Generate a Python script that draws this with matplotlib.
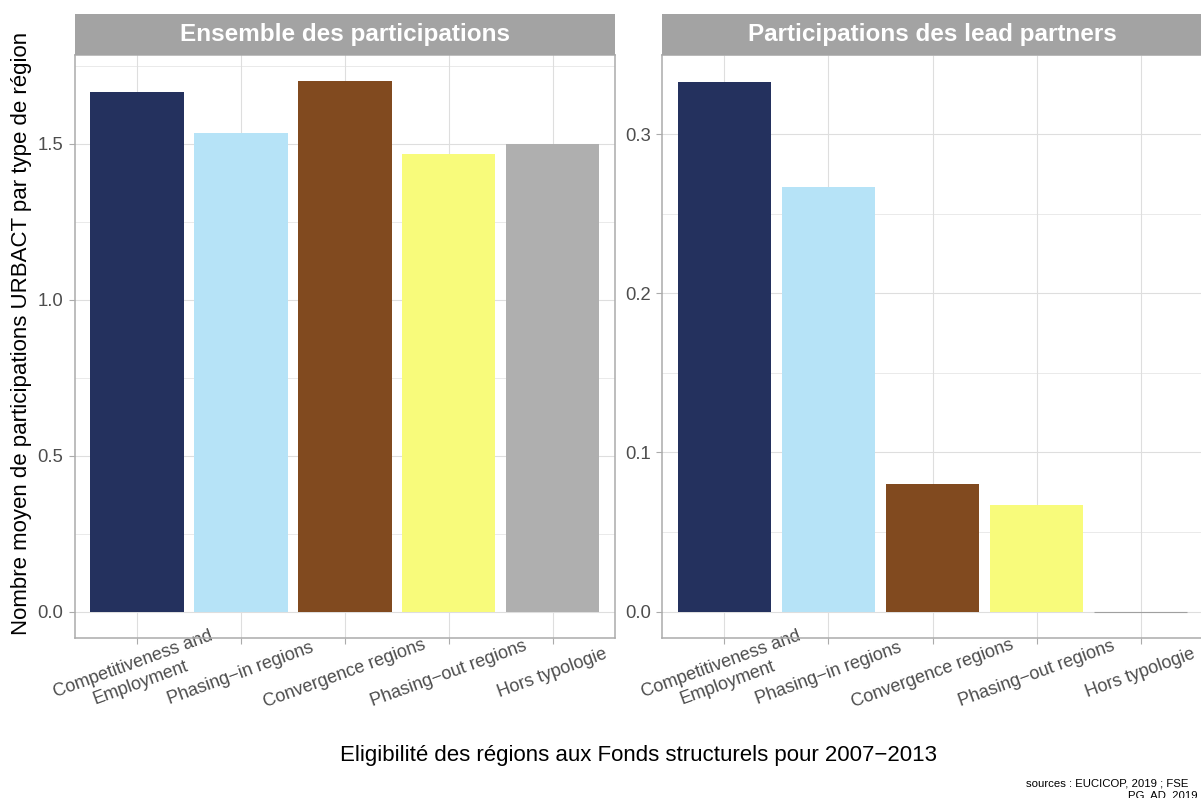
import matplotlib
matplotlib.use("Agg")
import matplotlib.pyplot as plt

plt.rcParams['font.family'] = ['Liberation Sans', 'DejaVu Sans']

# ---- data ----
categories = ["Competitiveness and\nEmployment", "Phasing\u2212in regions",
              "Convergence regions", "Phasing\u2212out regions", "Hors typologie"]
colors = ["#24315E", "#B6E3F7", "#814A1F", "#F8FB7B", "#AFAFAF"]
all_participations = [1.6667, 1.5333, 1.70, 1.4667, 1.50]
lead_partners = [0.3333, 0.2667, 0.080, 0.0667, 0.0]
panel_titles = ["Ensemble des participations", "Participations des lead partners"]
left_yticks = [0.0, 0.5, 1.0, 1.5]
left_yminor = [0.25, 0.75, 1.25, 1.75]
right_yticks = [0.0, 0.1, 0.2, 0.3]
right_yminor = [0.05, 0.15, 0.25, 0.35]
xlabel = "Eligibilit\u00e9 des r\u00e9gions aux Fonds structurels pour 2007\u22122013"
ylabel = "Nombre moyen de participations URBACT par type de r\u00e9gion"
caption1 = "sources : EUCICOP, 2019 ; FSE"
caption2 = "PG, AD, 2019"

W, H = 1201, 798
fig = plt.figure(figsize=(W / 100, H / 100), dpi=100)


def rect(x0, y0, x1, y1):
    return [x0 / W, 1 - y1 / H, (x1 - x0) / W, (y1 - y0) / H]


GRID = "#DEDEDE"
BORDER = "#ABABAB"
STRIP = "#A3A3A3"
TXT = "#4D4D4D"

panels = [
    (rect(74.5, 55, 615, 638), rect(74.5, 14, 615, 55), all_participations, left_yticks, left_yminor),
    (rect(662, 55, 1203, 638), rect(662, 14, 1203, 55), lead_partners, right_yticks, right_yminor),
]

x = list(range(1, len(categories) + 1))
for i, (prect, srect, vals, yt, ym) in enumerate(panels):
    ax = fig.add_axes(prect)
    vmax = max(vals)
    ax.set_ylim(-0.05 * vmax, 1.05 * vmax)
    ax.set_xlim(0.4, 5.6)
    for m in ym:
        ax.axhline(m, color=GRID, lw=0.45, zorder=0)
    for t in yt:
        ax.axhline(t, color=GRID, lw=0.8, zorder=0)
    for xx in x:
        ax.axvline(xx, color=GRID, lw=0.8, zorder=0)
    for xx, v, c in zip(x, vals, colors):
        if v == 0:
            ax.bar(xx, v, width=0.9, color=c, edgecolor="#A0A0A0", linewidth=0.8, zorder=2)
        else:
            ax.bar(xx, v, width=0.9, color=c, linewidth=0, zorder=2)
    ax.set_yticks(yt)
    ax.set_yticklabels([f"{t:.1f}" for t in yt])
    ax.set_xticks(x)
    ax.set_xticklabels(categories, rotation=20, ha="center", va="center",
                       rotation_mode="anchor", multialignment="center")
    ax.tick_params(axis="y", length=4.5, width=0.8, color=BORDER, labelsize=13.3,
                   labelcolor=TXT, pad=3.5)
    ax.tick_params(axis="x", length=4.5, width=0.8, color=BORDER, labelsize=13,
                   labelcolor=TXT, pad=21)
    for sp in ax.spines.values():
        sp.set_color(BORDER)
        sp.set_linewidth(1.1)
    ax.set_axisbelow(True)

    sax = fig.add_axes(srect)
    sax.set_facecolor(STRIP)
    sax.set_xticks([])
    sax.set_yticks([])
    for sp in sax.spines.values():
        sp.set_visible(False)
    sax.text(0.5, 0.5, panel_titles[i], transform=sax.transAxes, ha="center", va="center",
             color="white", fontsize=17.5, fontweight="bold")

fig.text(638.75 / W, 1 - 755 / H, xlabel, ha="center", va="center", fontsize=16, color="black")
fig.text(22 / W, 1 - 333 / H, ylabel, ha="center", va="center", rotation=90, fontsize=16,
         color="black")
fig.text(1188 / W, 1 - 787 / H, caption1, ha="right", va="baseline", fontsize=8.2, color="black")
fig.text(1128 / W, 1 - 799 / H, caption2, ha="left", va="baseline", fontsize=8.2, color="black")

fig.savefig("out.png", dpi=100)
